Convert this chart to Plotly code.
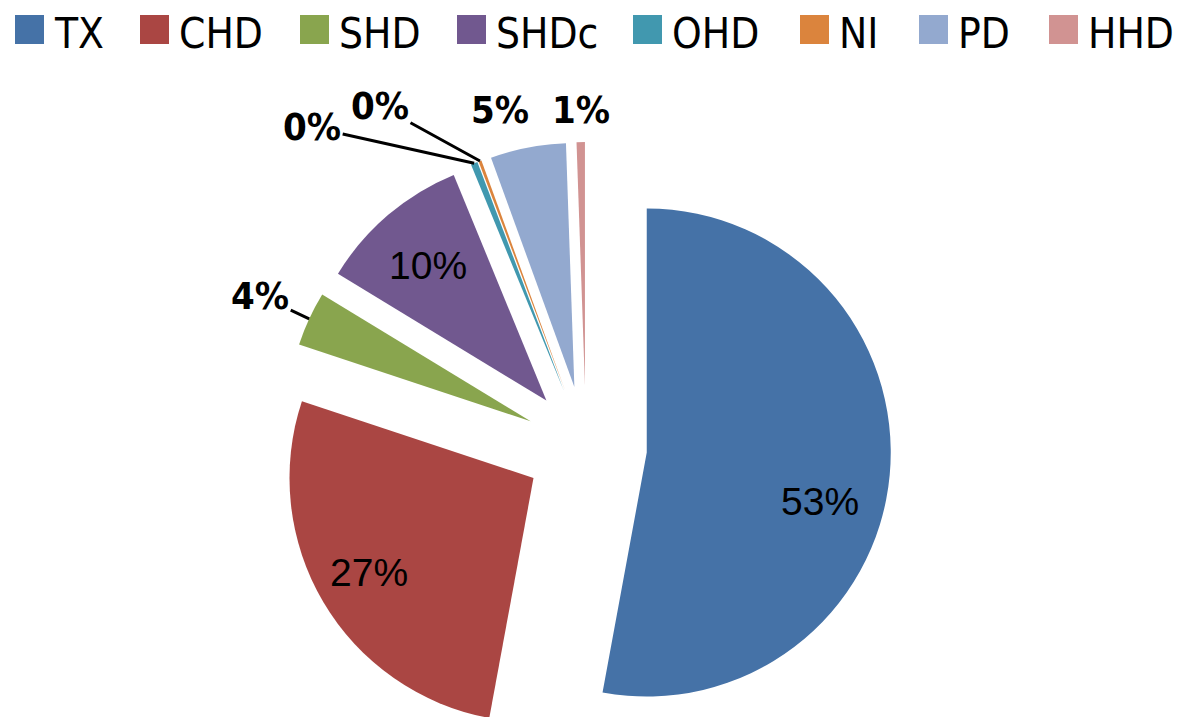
import math
import plotly.graph_objects as go

# ---- data ----
categories = ["TX", "CHD", "SHD", "SHDc", "OHD", "NI", "PD", "HHD"]
values = [52.9, 27.2, 3.6, 10.1, 0.45, 0.2, 5.0, 0.55]
colors = ["#4572A7", "#AA4643", "#89A54E", "#71588F",
          "#4198AF", "#DB843D", "#93A9CF", "#D19392"]

# ---- page / figure geometry ----
PAGE_OFF = 8                      # browser body margin (page px -> figure px)
FIG_W, FIG_H = 1184, 760          # bottom part falls below the window, like the clipped original
CX, CY, R, PULL = 586, 447, 244, 0.25   # pie centre / radius in window pixels
BOX = R * (1 + PULL)              # half size of the pie domain box

def px_x(x):
    return (x - PAGE_OFF) / FIG_W

def px_y(y):
    return 1 - (y - PAGE_OFF) / FIG_H

# label styles (offsets in px from the outer middle point of each slice)
label_offsets = [(-70, 27), (46, -30), (-49, -23), (40, 50),
                 (-162, -36), (-100, -55), (-28, -38), (0, -32)]
label_inside = [True, True, False, True, False, False, False, False]
label_arrow = [False, False, True, False, True, True, False, False]

NARROW = "DejaVu Sans Condensed, Liberation Sans Narrow, sans-serif"
INSIDE_FONT = dict(family="Liberation Sans, Arial, sans-serif", size=39, color="black")
OUTSIDE_FONT = dict(family=NARROW, size=38, color="black", weight="bold")

fig = go.Figure(go.Pie(
    labels=categories,
    values=values,
    sort=False,
    direction="clockwise",
    rotation=0,
    pull=PULL,
    domain=dict(x=[px_x(CX - BOX), px_x(CX + BOX)],
                y=[max(0.0, px_y(CY + BOX)), px_y(CY - BOX)]),
    marker=dict(colors=colors, line=dict(width=0)),
    textinfo="none",
    showlegend=False,
    hoverinfo="label+percent",
))

# ---- percentage labels, positioned from the slice geometry ----
total = sum(values)
annotations, shapes = [], []
cum = 0.0
for i, v in enumerate(values):
    mid = 2 * math.pi * (cum + v / 2) / total
    cum += v
    ox = CX + (1 + PULL) * R * math.sin(mid)
    oy = CY - (1 + PULL) * R * math.cos(mid)
    dx, dy = label_offsets[i]
    txt = f"{v / total * 100:.0f}%"
    font = INSIDE_FONT if label_inside[i] else OUTSIDE_FONT
    if label_arrow[i]:
        annotations.append(dict(text=txt, xref="paper", yref="paper",
                                x=px_x(ox), y=px_y(oy), ax=dx, ay=dy,
                                showarrow=True, arrowhead=0, arrowwidth=3,
                                arrowcolor="black", standoff=0, font=font))
    else:
        annotations.append(dict(text=txt, xref="paper", yref="paper",
                                x=px_x(ox + dx), y=px_y(oy + dy),
                                xanchor="center", yanchor="middle",
                                showarrow=False, font=font))

# ---- legend (square swatches + labels along the top) ----
legend_left_px = [15, 140, 300, 457, 633, 800, 919, 1049]
SW = 29
LEG_TOP, LEG_BOT = 15, 44
LEG_TEXT_Y = 33
for name, col, lx in zip(categories, colors, legend_left_px):
    shapes.append(dict(type="rect", xref="paper", yref="paper",
                       x0=px_x(lx), x1=px_x(lx + SW),
                       y0=px_y(LEG_BOT), y1=px_y(LEG_TOP),
                       fillcolor=col, line=dict(width=0)))
    annotations.append(dict(text=name, xref="paper", yref="paper",
                            x=px_x(lx + SW + 8), y=px_y(LEG_TEXT_Y),
                            xanchor="left", yanchor="middle", showarrow=False,
                            font=dict(family=NARROW, size=42, color="black")))

fig.update_layout(
    width=FIG_W, height=FIG_H, autosize=False,
    margin=dict(l=0, r=0, t=0, b=0, autoexpand=False),
    paper_bgcolor="white", plot_bgcolor="white",
    shapes=shapes, annotations=annotations,
)

fig.write_html("out.html")
